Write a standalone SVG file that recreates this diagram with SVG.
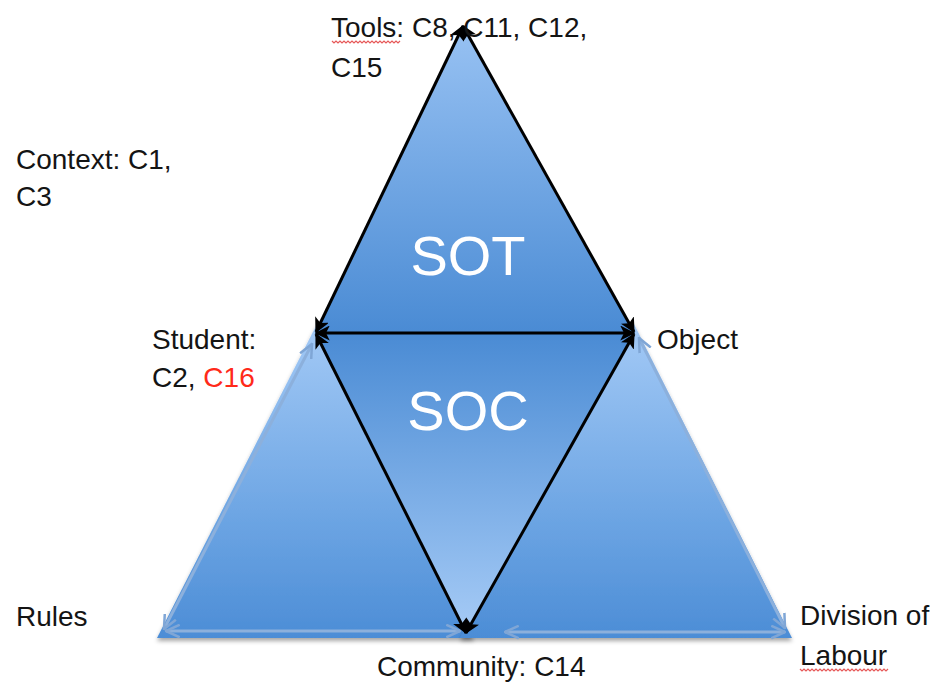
<svg xmlns="http://www.w3.org/2000/svg" width="937" height="684" viewBox="0 0 937 684">
<defs>
  <linearGradient id="gUp" x1="0" y1="0" x2="0" y2="1">
    <stop offset="0" stop-color="#a4caf6"/>
    <stop offset="0.6" stop-color="#6ea6e4"/>
    <stop offset="1" stop-color="#4c8dd6"/>
  </linearGradient>
  <linearGradient id="gTop" x1="0" y1="0" x2="0" y2="1">
    <stop offset="0" stop-color="#98c2f3"/>
    <stop offset="1" stop-color="#4a8bd4"/>
  </linearGradient>
  <linearGradient id="gDown" x1="0" y1="0" x2="0" y2="1">
    <stop offset="0" stop-color="#4a8bd4"/>
    <stop offset="1" stop-color="#a6cbf6"/>
  </linearGradient>
  <filter id="shadow" x="-10%" y="-10%" width="120%" height="130%">
    <feDropShadow dx="0" dy="3" stdDeviation="2" flood-color="#000" flood-opacity="0.35"/>
  </filter>
  <marker id="ah" viewBox="0 0 12 12" refX="11" refY="6" markerWidth="5" markerHeight="5" orient="auto-start-reverse" markerUnits="strokeWidth">
    <path d="M0,0 L12,6 L0,12 L3,6 Z" fill="#000"/>
  </marker>
  <marker id="lh" viewBox="0 0 12 12" refX="11" refY="6" markerWidth="5" markerHeight="5" orient="auto-start-reverse" markerUnits="strokeWidth">
    <path d="M0,1 L11,6 L0,11" fill="none" stroke="#7fa6d6" stroke-width="2"/>
  </marker>
  <style>
    .lbl { font-family: "Liberation Sans", Arial, sans-serif; font-size: 28px; fill: #141414; }
    .big { font-family: "Liberation Sans", Arial, sans-serif; font-size: 56px; fill: #ffffff; text-anchor: middle; }
    .blk { stroke: #000; stroke-width: 3; fill: none; marker-start: url(#ah); marker-end: url(#ah); }
    .lt { stroke: #8cb0dc; stroke-width: 3; fill: none; marker-start: url(#lh); marker-end: url(#lh); }
    .wavy { stroke: #e03030; stroke-width: 1.2; fill: none; opacity: 0.8; }
  </style>
</defs>

<g id="triangle-left">
  <polygon points="318,322 157,638 474,638" fill="url(#gUp)" filter="url(#shadow)"/>
</g>
<g id="triangle-right">
  <polygon points="633,322 460,638 792,638" fill="url(#gUp)" filter="url(#shadow)"/>
</g>
<g id="triangle-soc">
  <polygon points="315,333 635,333 466,633" fill="url(#gDown)"/>
  <text class="big" x="468" y="430">SOC</text>
</g>
<g id="triangle-sot">
  <polygon points="463,25 315,333 635,333" fill="url(#gTop)"/>
  <text class="big" x="468" y="275">SOT</text>
</g>

<g id="connectors">
  <line class="lt" x1="164" y1="629" x2="312" y2="344"/>
  <line class="lt" x1="166" y1="631" x2="460" y2="631"/>
  <line class="lt" x1="639" y1="338" x2="785" y2="628"/>
  <line class="lt" x1="505" y1="632" x2="785" y2="632"/>
  <line class="blk" x1="463" y1="26" x2="316" y2="332"/>
  <line class="blk" x1="463" y1="26" x2="634" y2="332"/>
  <line class="blk" x1="316" y1="333" x2="634" y2="333"/>
  <line class="blk" x1="316" y1="334" x2="466" y2="633"/>
  <line class="blk" x1="634" y1="334" x2="466" y2="633"/>
</g>

<g id="label-tools">
  <text class="lbl" x="331" y="37">Tools: C8, C11, C12,</text>
  <text class="lbl" x="331" y="77">C15</text>
  <path class="wavy" d="M332,41 l2,2 l2,-2 l2,2 l2,-2 l2,2 l2,-2 l2,2 l2,-2 l2,2 l2,-2 l2,2 l2,-2 l2,2 l2,-2 l2,2 l2,-2 l2,2 l2,-2 l2,2 l2,-2 l2,2 l2,-2 l2,2 l2,-2 l2,2 l2,-2 l2,2 l2,-2 l2,2 l2,-2 l2,2 l2,-2 l2,2 l2,-2"/>
</g>
<g id="label-context">
  <text class="lbl" x="16" y="169">Context: C1,</text>
  <text class="lbl" x="16" y="206">C3</text>
</g>
<g id="label-student">
  <text class="lbl" x="152" y="349">Student:</text>
  <text class="lbl" x="152" y="387">C2, <tspan fill="#ff2a1a">C16</tspan></text>
</g>
<g id="label-object">
  <text class="lbl" x="657" y="349">Object</text>
</g>
<g id="label-rules">
  <text class="lbl" x="16" y="626">Rules</text>
</g>
<g id="label-community">
  <text class="lbl" x="377" y="676">Community: C14</text>
</g>
<g id="label-division">
  <text class="lbl" x="800" y="625">Division of</text>
  <text class="lbl" x="800" y="665">Labour</text>
  <path class="wavy" d="M800,669 l2,2 l2,-2 l2,2 l2,-2 l2,2 l2,-2 l2,2 l2,-2 l2,2 l2,-2 l2,2 l2,-2 l2,2 l2,-2 l2,2 l2,-2 l2,2 l2,-2 l2,2 l2,-2 l2,2 l2,-2 l2,2 l2,-2 l2,2 l2,-2 l2,2 l2,-2 l2,2 l2,-2 l2,2 l2,-2 l2,2 l2,-2 l2,2 l2,-2 l2,2 l2,-2 l2,2 l2,-2 l2,2 l2,-2 l2,2 l2,-2"/>
</g>
</svg>
